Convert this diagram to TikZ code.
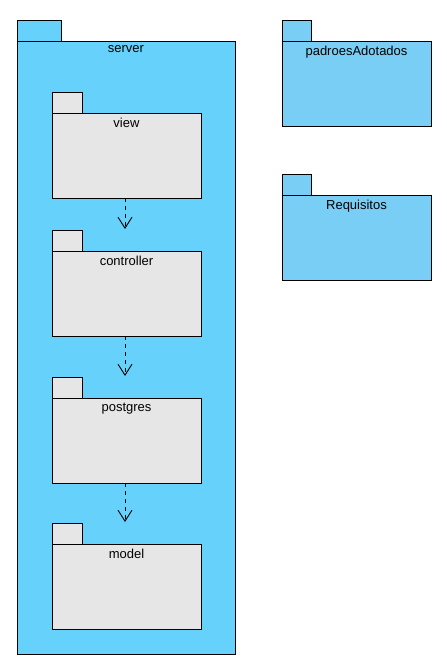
\documentclass[tikz,border=0pt]{standalone}
\usepackage{fontspec}
\setmainfont{Liberation Sans}
\usetikzlibrary{arrows.meta,positioning}
\definecolor{srvblue}{RGB}{102,210,252}
\definecolor{sideblue}{RGB}{120,206,245}
\definecolor{pkggray}{RGB}{230,230,230}
\tikzset{
  pkgbody/.style={draw=black,line width=0.9pt,inner sep=0pt,outer sep=0pt,anchor=north west},
  pkgtab/.style={draw=black,line width=0.9pt,inner sep=0pt,outer sep=0pt,anchor=south west,minimum height=21pt},
  pkgname/.style={font=\fontsize{13}{15}\selectfont,anchor=north,inner sep=0pt},
  dep/.style={draw=black,line width=0.9pt,dash pattern=on 4pt off 4pt,-{Straight Barb[length=11pt,width=14pt,line width=0.9pt]}}
}
\begin{document}
\begin{tikzpicture}[x=1pt,y=-1pt]
\useasboundingbox (0,0) rectangle (447,662);
% server
\node[pkgtab,fill=srvblue,minimum width=44pt] (servertab) at (17,41) {};
\node[pkgbody,fill=srvblue,minimum width=218pt,minimum height=613pt] (server) at (17,41) {};
\node[pkgname] (servername) at (126,45.5) {server};
% inner packages
\foreach \n/\t/\y in {view/view/113, controller/controller/251, postgres/postgres/398, model/model/544}{
  \node[pkgtab,fill=pkggray,minimum width=30pt] (\n tab) at (52,\y) {};
  \node[pkgbody,fill=pkggray,minimum width=149pt,minimum height=85pt] (\n) at (52,\y) {};
  \node[pkgname] (\n name) at (126.5,\y+4.5) {\t};
}
% right packages
\node[pkgtab,fill=sideblue,minimum width=29pt] (padroestab) at (282,41) {};
\node[pkgbody,fill=sideblue,minimum width=149pt,minimum height=85pt] (padroes) at (282,41) {};
\node[pkgname] (padroesname) at (356.5,45.5) {padroesAdotados};
\node[pkgtab,fill=sideblue,minimum width=29pt] (requisitostab) at (282,195) {};
\node[pkgbody,fill=sideblue,minimum width=149pt,minimum height=85pt] (requisitos) at (282,195) {};
\node[pkgname] (requisitosname) at (356.5,199.5) {Requisitos};
% dependencies
\draw[dep] ([xshift=-1.5pt]view.south) -- ([xshift=-1.5pt,yshift=1pt]view.south |- controllertab.north);
\draw[dep] ([xshift=-1.5pt]controller.south) -- ([xshift=-1.5pt,yshift=1pt]controller.south |- postgrestab.north);
\draw[dep] ([xshift=-1.5pt]postgres.south) -- ([xshift=-1.5pt,yshift=1pt]postgres.south |- modeltab.north);
\end{tikzpicture}
\end{document}
